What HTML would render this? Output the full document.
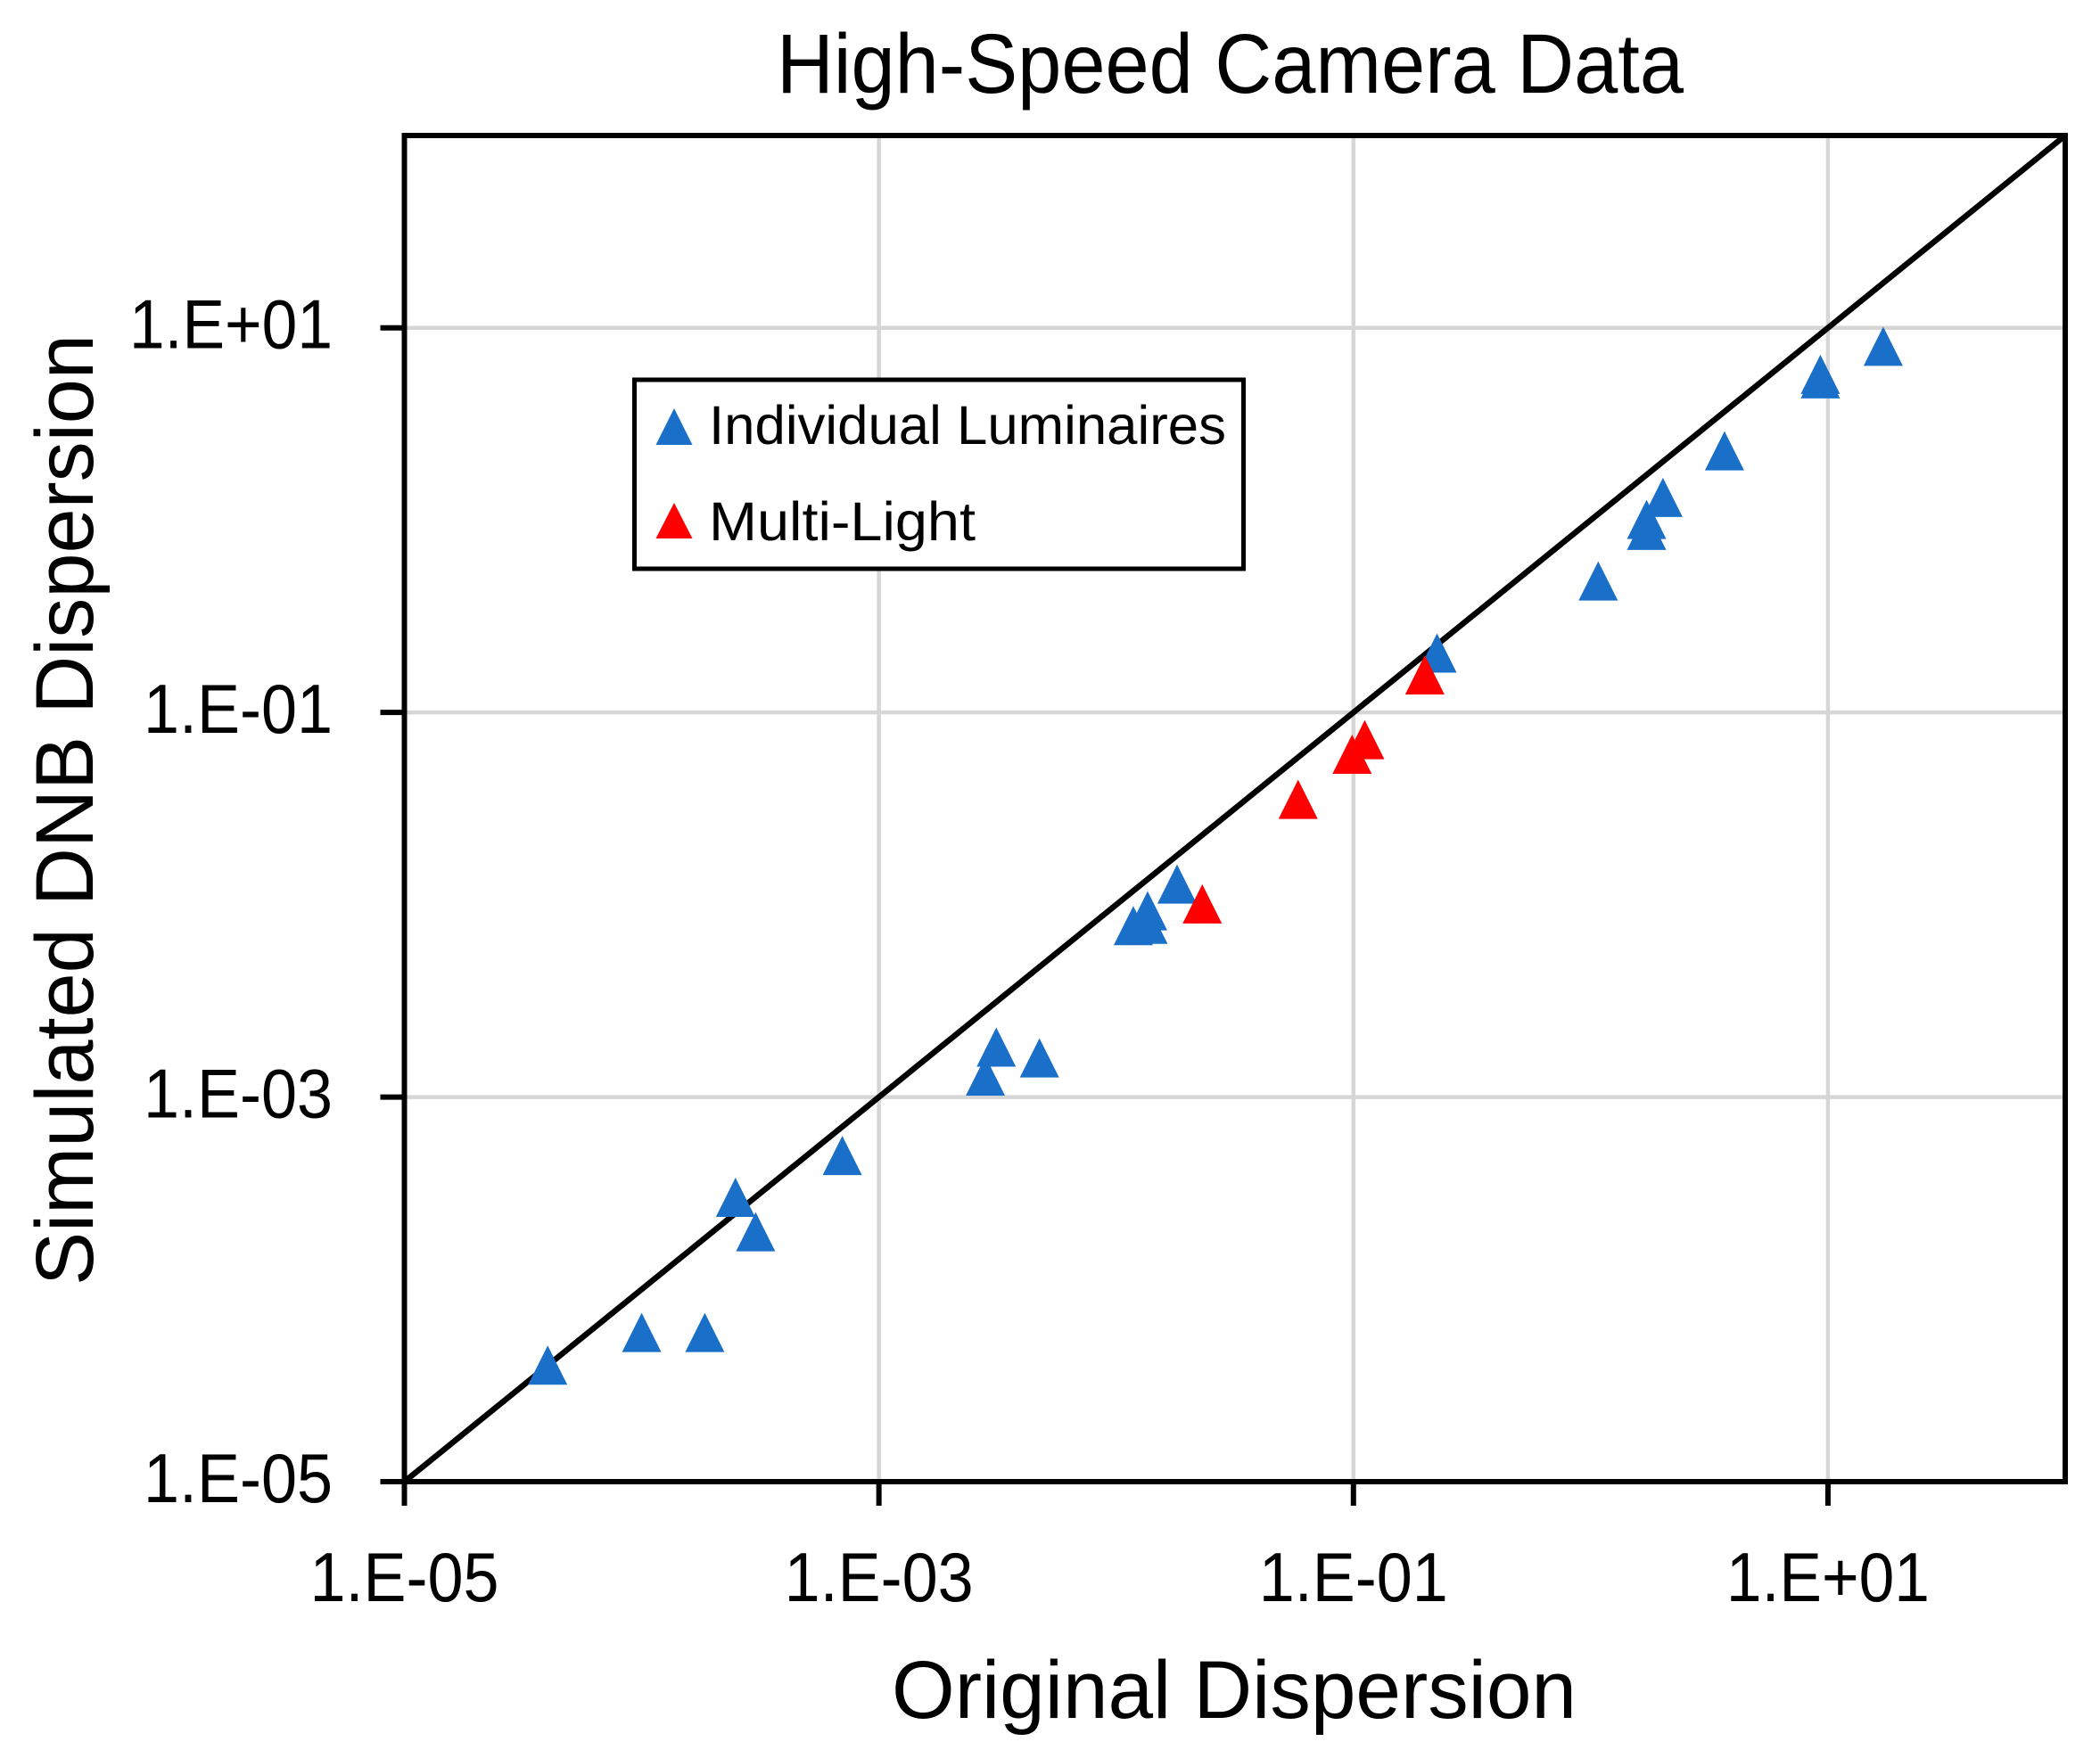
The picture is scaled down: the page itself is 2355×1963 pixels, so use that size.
<!DOCTYPE html>
<html lang="en">
<head>
<meta charset="utf-8">
<title>High-Speed Camera Data</title>
<style>
html,body{margin:0;padding:0;background:#fff;}
svg{display:block;}
text{font-family:"Liberation Sans",sans-serif;fill:#000;}
</style>
</head>
<body>
<svg id="chart" xmlns="http://www.w3.org/2000/svg" width="2355" height="1963" viewBox="0 0 2355 1963">
  <rect x="0" y="0" width="2355" height="1963" fill="#ffffff"/>
  <g id="grid"></g>
  <g id="ref"></g>
  <g id="blue"></g>
  <g id="red"></g>
  <g id="axes"></g>

  <text x="871" y="104" font-size="95" textLength="1017" lengthAdjust="spacingAndGlyphs">High-Speed Camera Data</text>
  <text x="1000" y="1927" font-size="92" textLength="768" lengthAdjust="spacingAndGlyphs">Original Dispersion</text>
  <text transform="translate(104,1442) rotate(-90)" x="0" y="0" font-size="92" textLength="1067" lengthAdjust="spacingAndGlyphs">Simulated DNB Dispersion</text>

  <g>
    <rect x="711.5" y="426" width="683" height="212" fill="#ffffff" stroke="#000000" stroke-width="5"/>
    <polygon points="756,458 776.5,499 735.5,499" fill="#1a6fc9"/>
    <text x="795" y="498" font-size="61" textLength="580" lengthAdjust="spacingAndGlyphs">Individual Luminaires</text>
    <polygon points="756,564 776.5,604 735.5,604" fill="#ff0000"/>
    <text x="795" y="606" font-size="61" textLength="299" lengthAdjust="spacingAndGlyphs">Multi-Light</text>
  </g>
</svg>
<script>
const xTickValues = [1e-5, 1e-3, 1e-1, 1e1];
const yTickValues = [1e-5, 1e-3, 1e-1, 1e1];
const xTickLabels = ['1.E-05', '1.E-03', '1.E-01', '1.E+01'];
const yTickLabels = ['1.E-05', '1.E-03', '1.E-01', '1.E+01'];
const identityLine = [1e-5, 100];

const luminairesX = [4.018e-5, 1.0e-4, 1.846e-4, 2.486e-4, 3.023e-4, 7.01e-4, 2.811e-3, 3.123e-3, 4.75e-3,
  0.01181, 0.01357, 0.01362, 0.01805, 0.2251, 1.076, 1.72, 1.72, 2.016, 3.664, 9.29, 9.29, 17.1];
const luminairesY = [4.036e-5, 5.966e-5, 5.966e-5, 3.012e-4, 1.993e-4, 4.97e-4, 1.286e-3, 1.82e-3, 1.598e-3,
  7.79e-3, 9.30e-3, 7.92e-3, 0.01281, 0.2038, 0.4828, 0.8845, 1.009, 1.313, 2.295, 5.43, 5.728, 8.02];

const multiLightX = [0.02306, 0.05846, 0.0987, 0.1116, 0.1999];
const multiLightY = [0.01010, 0.03532, 0.06067, 0.07222, 0.1569];

const NS = 'http://www.w3.org/2000/svg';
const plot = { left: 453.5, right: 2316, top: 152, bottom: 1662 };
const xMinLog = -5, xMaxLog = 2, yMinLog = -5, yMaxLog = 2;

function xScale(v) {
  return plot.left + (Math.log10(v) - xMinLog) / (xMaxLog - xMinLog) * (plot.right - plot.left);
}
function yScale(v) {
  return plot.bottom - (Math.log10(v) - yMinLog) / (yMaxLog - yMinLog) * (plot.bottom - plot.top);
}
function make(tag, parent) {
  const el = document.createElementNS(NS, tag);
  document.getElementById(parent).appendChild(el);
  return el;
}
function setLine(el, x1, y1, x2, y2, color, width) {
  el.setAttribute('x1', x1);
  el.setAttribute('y1', y1);
  el.setAttribute('x2', x2);
  el.setAttribute('y2', y2);
  el.setAttribute('stroke', color);
  el.setAttribute('stroke-width', width);
}

xTickValues.forEach(function (v, i) {
  const x = xScale(v);
  if (i > 0) {
    const g = make('line', 'grid');
    
    
    setLine(g, x, plot.top, x, plot.bottom, '#d6d6d6', 4.5);
  }
  const t = make('line', 'axes');
  
  
  setLine(t, x, plot.bottom, x, plot.bottom + 27, '#000', 6);
  const label = make('text', 'axes');
  
  
  const w = xTickLabels[i].indexOf('+') >= 0 ? 228 : 212;
  label.setAttribute('x', x - w / 2);
  label.setAttribute('y', 1796);
  label.setAttribute('font-size', 78);
  label.setAttribute('textLength', w);
  label.setAttribute('lengthAdjust', 'spacingAndGlyphs');
  label.textContent = xTickLabels[i];
});

yTickValues.forEach(function (v, i) {
  const y = yScale(v);
  if (i > 0) {
    const g = make('line', 'grid');
    
    
    setLine(g, plot.left, y, plot.right, y, '#d6d6d6', 4.5);
  }
  const t = make('line', 'axes');
  
  
  setLine(t, plot.left - 27, y, plot.left, y, '#000', 6);
  const label = make('text', 'axes');
  
  
  const w = yTickLabels[i].indexOf('+') >= 0 ? 228 : 212;
  label.setAttribute('x', 373 - w);
  label.setAttribute('y', y + 23);
  label.setAttribute('font-size', 78);
  label.setAttribute('textLength', w);
  label.setAttribute('lengthAdjust', 'spacingAndGlyphs');
  label.textContent = yTickLabels[i];
});

const diag = make('line', 'ref');


setLine(diag, xScale(identityLine[0]), yScale(identityLine[0]), xScale(identityLine[1]), yScale(identityLine[1]), '#000', 6.5);

function triangle(parent, cx, cy, color) {
  const hw = 22, hh = 22;
  const p = make('polygon', parent);
  p.setAttribute('points', cx + ',' + (cy - hh) + ' ' + (cx + hw) + ',' + (cy + hh) + ' ' + (cx - hw) + ',' + (cy + hh));
  p.setAttribute('fill', color);
  return p;
}

luminairesX.forEach(function (v, i) {
  const m = triangle('blue', xScale(v), yScale(luminairesY[i]), '#1a6fc9');
  
  
});

multiLightX.forEach(function (v, i) {
  const m = triangle('red', xScale(v), yScale(multiLightY[i]), '#ff0000');
  
  
});

const frame = make('rect', 'axes');


frame.setAttribute('x', plot.left);
frame.setAttribute('y', plot.top);
frame.setAttribute('width', plot.right - plot.left);
frame.setAttribute('height', plot.bottom - plot.top);
frame.setAttribute('fill', 'none');
frame.setAttribute('stroke', '#000');
frame.setAttribute('stroke-width', 6);
</script>
</body>
</html>
